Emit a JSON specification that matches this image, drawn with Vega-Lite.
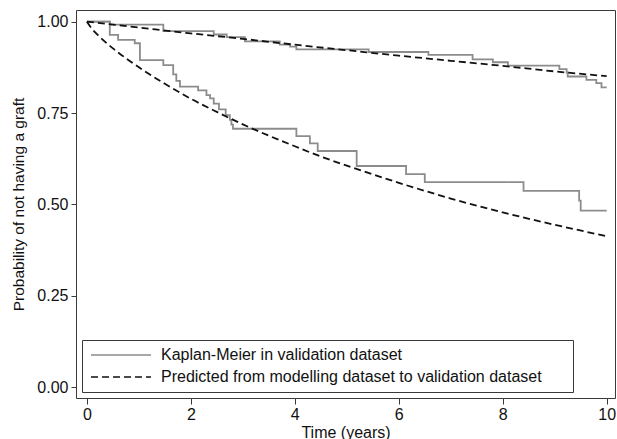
{
  "$schema": "https://vega.github.io/schema/vega-lite/v6.json",
  "width": 539,
  "height": 388,
  "autosize": {"type": "none"},
  "padding": {"left": 76, "top": 10, "right": 2, "bottom": 41},
  "background": "white",
  "datasets": {
    "km": [
      {"t": 0, "p": 1.0, "series": "Kaplan-Meier in validation dataset", "curve": "high"},
      {"t": 0.44, "p": 0.964, "series": "Kaplan-Meier in validation dataset", "curve": "high"},
      {"t": 0.60, "p": 0.950, "series": "Kaplan-Meier in validation dataset", "curve": "high"},
      {"t": 0.92, "p": 0.941, "series": "Kaplan-Meier in validation dataset", "curve": "high"},
      {"t": 1.02, "p": 0.895, "series": "Kaplan-Meier in validation dataset", "curve": "high"},
      {"t": 1.47, "p": 0.881, "series": "Kaplan-Meier in validation dataset", "curve": "high"},
      {"t": 1.66, "p": 0.856, "series": "Kaplan-Meier in validation dataset", "curve": "high"},
      {"t": 1.72, "p": 0.838, "series": "Kaplan-Meier in validation dataset", "curve": "high"},
      {"t": 1.79, "p": 0.822, "series": "Kaplan-Meier in validation dataset", "curve": "high"},
      {"t": 2.14, "p": 0.812, "series": "Kaplan-Meier in validation dataset", "curve": "high"},
      {"t": 2.30, "p": 0.799, "series": "Kaplan-Meier in validation dataset", "curve": "high"},
      {"t": 2.37, "p": 0.790, "series": "Kaplan-Meier in validation dataset", "curve": "high"},
      {"t": 2.44, "p": 0.776, "series": "Kaplan-Meier in validation dataset", "curve": "high"},
      {"t": 2.54, "p": 0.760, "series": "Kaplan-Meier in validation dataset", "curve": "high"},
      {"t": 2.67, "p": 0.744, "series": "Kaplan-Meier in validation dataset", "curve": "high"},
      {"t": 2.75, "p": 0.731, "series": "Kaplan-Meier in validation dataset", "curve": "high"},
      {"t": 2.78, "p": 0.718, "series": "Kaplan-Meier in validation dataset", "curve": "high"},
      {"t": 2.81, "p": 0.707, "series": "Kaplan-Meier in validation dataset", "curve": "high"},
      {"t": 4.03, "p": 0.687, "series": "Kaplan-Meier in validation dataset", "curve": "high"},
      {"t": 4.29, "p": 0.667, "series": "Kaplan-Meier in validation dataset", "curve": "high"},
      {"t": 4.44, "p": 0.646, "series": "Kaplan-Meier in validation dataset", "curve": "high"},
      {"t": 5.19, "p": 0.605, "series": "Kaplan-Meier in validation dataset", "curve": "high"},
      {"t": 6.14, "p": 0.583, "series": "Kaplan-Meier in validation dataset", "curve": "high"},
      {"t": 6.50, "p": 0.561, "series": "Kaplan-Meier in validation dataset", "curve": "high"},
      {"t": 8.40, "p": 0.537, "series": "Kaplan-Meier in validation dataset", "curve": "high"},
      {"t": 9.47, "p": 0.510, "series": "Kaplan-Meier in validation dataset", "curve": "high"},
      {"t": 9.50, "p": 0.483, "series": "Kaplan-Meier in validation dataset", "curve": "high"},
      {"t": 10.0, "p": 0.483, "series": "Kaplan-Meier in validation dataset", "curve": "high"},
      {"t": 0, "p": 1.0, "series": "Kaplan-Meier in validation dataset", "curve": "low"},
      {"t": 0.44, "p": 0.992, "series": "Kaplan-Meier in validation dataset", "curve": "low"},
      {"t": 1.47, "p": 0.974, "series": "Kaplan-Meier in validation dataset", "curve": "low"},
      {"t": 2.44, "p": 0.965, "series": "Kaplan-Meier in validation dataset", "curve": "low"},
      {"t": 2.69, "p": 0.958, "series": "Kaplan-Meier in validation dataset", "curve": "low"},
      {"t": 3.04, "p": 0.946, "series": "Kaplan-Meier in validation dataset", "curve": "low"},
      {"t": 3.71, "p": 0.937, "series": "Kaplan-Meier in validation dataset", "curve": "low"},
      {"t": 3.91, "p": 0.932, "series": "Kaplan-Meier in validation dataset", "curve": "low"},
      {"t": 4.03, "p": 0.924, "series": "Kaplan-Meier in validation dataset", "curve": "low"},
      {"t": 5.42, "p": 0.917, "series": "Kaplan-Meier in validation dataset", "curve": "low"},
      {"t": 6.57, "p": 0.909, "series": "Kaplan-Meier in validation dataset", "curve": "low"},
      {"t": 7.42, "p": 0.897, "series": "Kaplan-Meier in validation dataset", "curve": "low"},
      {"t": 7.81, "p": 0.889, "series": "Kaplan-Meier in validation dataset", "curve": "low"},
      {"t": 8.10, "p": 0.880, "series": "Kaplan-Meier in validation dataset", "curve": "low"},
      {"t": 9.09, "p": 0.870, "series": "Kaplan-Meier in validation dataset", "curve": "low"},
      {"t": 9.23, "p": 0.861, "series": "Kaplan-Meier in validation dataset", "curve": "low"},
      {"t": 9.25, "p": 0.850, "series": "Kaplan-Meier in validation dataset", "curve": "low"},
      {"t": 9.61, "p": 0.841, "series": "Kaplan-Meier in validation dataset", "curve": "low"},
      {"t": 9.80, "p": 0.832, "series": "Kaplan-Meier in validation dataset", "curve": "low"},
      {"t": 9.90, "p": 0.820, "series": "Kaplan-Meier in validation dataset", "curve": "low"},
      {"t": 10.0, "p": 0.820, "series": "Kaplan-Meier in validation dataset", "curve": "low"}
    ],
    "pred": [
      {"t": 0, "p": 1.0, "series": "Predicted from modelling dataset to validation dataset", "curve": "high"},
      {"t": 0.1, "p": 0.980, "series": "Predicted from modelling dataset to validation dataset", "curve": "high"},
      {"t": 0.25, "p": 0.958, "series": "Predicted from modelling dataset to validation dataset", "curve": "high"},
      {"t": 0.5, "p": 0.927, "series": "Predicted from modelling dataset to validation dataset", "curve": "high"},
      {"t": 0.75, "p": 0.900, "series": "Predicted from modelling dataset to validation dataset", "curve": "high"},
      {"t": 1, "p": 0.875, "series": "Predicted from modelling dataset to validation dataset", "curve": "high"},
      {"t": 1.5, "p": 0.830, "series": "Predicted from modelling dataset to validation dataset", "curve": "high"},
      {"t": 2, "p": 0.789, "series": "Predicted from modelling dataset to validation dataset", "curve": "high"},
      {"t": 2.5, "p": 0.753, "series": "Predicted from modelling dataset to validation dataset", "curve": "high"},
      {"t": 3, "p": 0.719, "series": "Predicted from modelling dataset to validation dataset", "curve": "high"},
      {"t": 3.5, "p": 0.688, "series": "Predicted from modelling dataset to validation dataset", "curve": "high"},
      {"t": 4, "p": 0.659, "series": "Predicted from modelling dataset to validation dataset", "curve": "high"},
      {"t": 4.5, "p": 0.631, "series": "Predicted from modelling dataset to validation dataset", "curve": "high"},
      {"t": 5, "p": 0.606, "series": "Predicted from modelling dataset to validation dataset", "curve": "high"},
      {"t": 6, "p": 0.559, "series": "Predicted from modelling dataset to validation dataset", "curve": "high"},
      {"t": 7, "p": 0.516, "series": "Predicted from modelling dataset to validation dataset", "curve": "high"},
      {"t": 8, "p": 0.478, "series": "Predicted from modelling dataset to validation dataset", "curve": "high"},
      {"t": 9, "p": 0.444, "series": "Predicted from modelling dataset to validation dataset", "curve": "high"},
      {"t": 10, "p": 0.413, "series": "Predicted from modelling dataset to validation dataset", "curve": "high"},
      {"t": 0, "p": 1.0, "series": "Predicted from modelling dataset to validation dataset", "curve": "low"},
      {"t": 1, "p": 0.984, "series": "Predicted from modelling dataset to validation dataset", "curve": "low"},
      {"t": 2, "p": 0.968, "series": "Predicted from modelling dataset to validation dataset", "curve": "low"},
      {"t": 3, "p": 0.953, "series": "Predicted from modelling dataset to validation dataset", "curve": "low"},
      {"t": 4, "p": 0.937, "series": "Predicted from modelling dataset to validation dataset", "curve": "low"},
      {"t": 5, "p": 0.922, "series": "Predicted from modelling dataset to validation dataset", "curve": "low"},
      {"t": 6, "p": 0.907, "series": "Predicted from modelling dataset to validation dataset", "curve": "low"},
      {"t": 7, "p": 0.893, "series": "Predicted from modelling dataset to validation dataset", "curve": "low"},
      {"t": 8, "p": 0.879, "series": "Predicted from modelling dataset to validation dataset", "curve": "low"},
      {"t": 9, "p": 0.864, "series": "Predicted from modelling dataset to validation dataset", "curve": "low"},
      {"t": 10, "p": 0.851, "series": "Predicted from modelling dataset to validation dataset", "curve": "low"}
    ],
    "notes": [
      {"t": 9.96, "p": 0.779, "label": "Low risk"},
      {"t": 9.96, "p": 0.377, "label": "High risk"}
    ]
  },
  "layer": [
    {
      "data": {"name": "km"},
      "mark": {"type": "line", "interpolate": "step-after", "strokeWidth": 1.8},
      "encoding": {
        "x": {"field": "t", "type": "quantitative"},
        "y": {"field": "p", "type": "quantitative"},
        "detail": {"field": "curve"},
        "color": {"field": "series", "type": "nominal"},
        "strokeDash": {"field": "series", "type": "nominal"}
      }
    },
    {
      "data": {"name": "pred"},
      "mark": {"type": "line", "interpolate": "monotone", "strokeWidth": 1.8},
      "encoding": {
        "x": {"field": "t", "type": "quantitative"},
        "y": {"field": "p", "type": "quantitative"},
        "detail": {"field": "curve"},
        "color": {"field": "series", "type": "nominal"},
        "strokeDash": {"field": "series", "type": "nominal"}
      }
    },
    {
      "data": {"name": "notes"},
      "mark": {"type": "text", "align": "right", "baseline": "middle", "fontSize": 16, "font": "Liberation Sans", "color": "#111"},
      "encoding": {
        "x": {"field": "t", "type": "quantitative"},
        "y": {"field": "p", "type": "quantitative"},
        "text": {"field": "label"}
      }
    }
  ],
  "encoding": {
    "x": {
      "field": "t", "type": "quantitative",
      "scale": {"domain": [-0.21, 10.16], "nice": false, "zero": false},
      "axis": {
        "title": "Time (years)", "values": [0, 2, 4, 6, 8, 10], "format": "d",
        "tickSize": 6, "labelPadding": 15, "labelBaseline": "alphabetic",
        "titleY": 39, "titleBaseline": "alphabetic"
      }
    },
    "y": {
      "field": "p", "type": "quantitative",
      "scale": {"domain": [-0.03, 1.032], "nice": false, "zero": false},
      "axis": {
        "title": "Probability of not having a graft", "values": [0, 0.25, 0.5, 0.75, 1], "format": ".2f",
        "tickSize": 5, "labelPadding": 3, "labelBaseline": "middle",
        "titleX": -53, "titleBaseline": "alphabetic", "titleFontSize": 15.5
      }
    },
    "color": {
      "field": "series", "type": "nominal",
      "scale": {
        "domain": ["Kaplan-Meier in validation dataset", "Predicted from modelling dataset to validation dataset"],
        "range": ["#8c8c8c", "#111111"]
      },
      "legend": {"title": null, "labelExpr": "datum.label + '\u2800\u2800'"}
    },
    "strokeDash": {
      "field": "series", "type": "nominal",
      "scale": {
        "domain": ["Kaplan-Meier in validation dataset", "Predicted from modelling dataset to validation dataset"],
        "range": [[1, 0], [7, 4]]
      },
      "legend": {"title": null, "labelExpr": "datum.label + '\u2800\u2800'"}
    }
  },
  "config": {
    "font": "Liberation Sans",
    "view": {"stroke": "#3a3a3a", "strokeWidth": 1},
    "axis": {
      "grid": false,
      "domain": false,
      "tickColor": "#3a3a3a",
      "tickWidth": 1,
      "labelFontSize": 16,
      "labelColor": "#111",
      "labelFont": "Liberation Sans",
      "titleFontSize": 16,
      "titleFont": "Liberation Sans",
      "titleFontWeight": "normal",
      "titleColor": "#111"
    },
    "legend": {
      "orient": "bottom-left",
      "offset": 6,
      "strokeColor": "#3a3a3a",
      "fillColor": "white",
      "padding": 7,
      "cornerRadius": 0,
      "symbolType": "M-5,0H5",
      "symbolSize": 144,
      "symbolOffset": 24,
      "symbolStrokeWidth": 1.5,
      "labelFontSize": 16,
      "labelFont": "Liberation Sans",
      "labelColor": "#111",
      "labelLimit": 600,
      "labelOffset": 32,
      "rowPadding": 6
    }
  }
}
